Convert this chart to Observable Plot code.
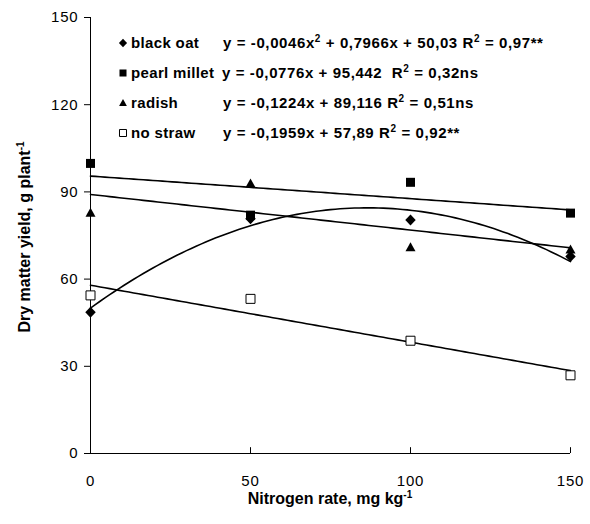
<!DOCTYPE html>
<html><head><meta charset="utf-8">
<script src="https://cdn.jsdelivr.net/npm/d3@7"></script>
<script src="https://cdn.jsdelivr.net/npm/@observablehq/plot@0.6"></script>
<style>
body{margin:0;background:#fff;}
#chart{position:relative;width:590px;height:524px;}
</style></head><body><div id="chart"></div>
<script>
// ---- data ----
const nitrogen = [0, 50, 100, 150];
const seriesNames = ["black oat", "pearl millet", "radish", "no straw"];
const blackOat = [48.6, 80.8, 80.3, 67.8];
const pearlMillet = [99.8, 82.0, 93.3, 82.7];
const radish = [82.8, 92.9, 71.0, 70.2];
const noStraw = [54.4, 53.2, 38.8, 26.9];
// regression coefficients [x^2, x, intercept], as printed in the legend
const coefBlackOat = [-0.0046, 0.7966, 50.03];
const coefPearlMillet = [0, -0.0776, 95.442];
const coefRadish = [0, -0.1224, 89.116];
const coefNoStraw = [0, -0.1959, 57.89];
// equation labels: alternating normal / superscript parts
const eqBlackOat = ["y = -0,0046x", "2", " + 0,7966x + 50,03 R", "2", " = 0,97**"];
const eqPearlMillet = ["y = -0,0776x + 95,442  R", "2", " = 0,32ns"];
const eqRadish = ["y = -0,1224x + 89,116 R", "2", " = 0,51ns"];
const eqNoStraw = ["y = -0,1959x + 57,89 R", "2", " = 0,92**"];
const yTicks = [0, 30, 60, 90, 120, 150];
const xTicks = [0, 50, 100, 150];
const xTitle = ["Nitrogen rate, mg kg", "-1"];
const yTitle = ["Dry matter yield, g plant", "-1"];

// ---- build ----
const values = [blackOat, pearlMillet, radish, noStraw];
const coefs = [coefBlackOat, coefPearlMillet, coefRadish, coefNoStraw];
const equations = [eqBlackOat, eqPearlMillet, eqRadish, eqNoStraw];
const points = seriesNames.map((s, i) => nitrogen.map((x, j) => ({series: s, x, y: values[i][j]})));
const fits = seriesNames.flatMap((s, i) => d3.range(0, 151, 1.5).map(x => {
  const [a, b, c] = coefs[i];
  return {series: s, x, y: a * x * x + b * x + c};
}));

// custom symbols (size = pi r^2)
const rad = size => Math.sqrt(size / Math.PI);
const symDiamond = {draw(ctx, size){ const h = rad(size) * 1.1; ctx.moveTo(0, -h); ctx.lineTo(h*0.95, 0); ctx.lineTo(0, h); ctx.lineTo(-h*0.95, 0); ctx.closePath(); }};
const symSquare = {draw(ctx, size){ const h = rad(size) * 0.9; ctx.rect(-h, -h, 2*h, 2*h); }};
const symTriangle = {draw(ctx, size){ const r = rad(size); ctx.moveTo(0, -r); ctx.lineTo(r, 0.8*r); ctx.lineTo(-r, 0.8*r); ctx.closePath(); }};
const symbols = [symDiamond, symSquare, symTriangle, symSquare];
const fills = ["#000", "#000", "#000", "#fff"];

const plot = Plot.plot({
  width: 590, height: 524,
  marginLeft: 90, marginRight: 20, marginTop: 17, marginBottom: 71,
  style: {fontFamily: "Arial, 'Liberation Sans', sans-serif", fontSize: "15px", color: "#000", background: "#fff"},
  x: {domain: [0, 150]},
  y: {domain: [0, 150]},
  marks: [
    Plot.axisY({ticks: yTicks, tickSize: 6, tickPadding: 6, label: null, tickFormat: d => d}),
    Plot.axisX({ticks: xTicks, tickSize: 0, tickPadding: 22, label: null, tickFormat: d => d}),
    Plot.ruleX(xTicks, {y1: 0, y2: 2, stroke: "#000"}),
    Plot.ruleX([0], {stroke: "#000"}),
    Plot.ruleY([0], {stroke: "#000"}),
    Plot.line(fits, {x: "x", y: "y", z: "series", stroke: "#000", strokeWidth: 1.6, curve: "linear"}),
    ...[1, 2, 3, 0].map(i => Plot.dot(points[i], {x: "x", y: "y", r: 5, symbol: symbols[i], fill: fills[i], stroke: "#000", strokeWidth: i === 3 ? 1 : 0}))
  ]
});
document.getElementById("chart").appendChild(plot);

// ---- titles & legend (text elements added to the SVG) ----
const svg = d3.select(plot);
svg.selectAll('g[aria-label="y-axis tick label"] text, g[aria-label="x-axis tick label"] text')
  .style("letter-spacing", "0.8px");
const font = "Arial, 'Liberation Sans', sans-serif";
function addRich(sel, parts, supSize) {
  parts.forEach((p, k) => {
    const t = sel.append("tspan").text(p);
    if (k % 2 === 1) t.attr("font-size", supSize).attr("dy", -6);
    else if (k > 0) t.attr("dy", 6);
  });
}
const xt = svg.append("text").attr("x", 330).attr("y", 504).attr("text-anchor", "middle")
  .attr("font-family", font).attr("font-size", 16).attr("font-weight", "bold").attr("fill", "#000");
addRich(xt, xTitle, 10);
const yt = svg.append("text").attr("transform", "translate(30,237) rotate(-90)").attr("text-anchor", "middle")
  .attr("font-family", font).attr("font-size", 16).attr("font-weight", "bold").attr("fill", "#000");
addRich(yt, yTitle, 10);

const legend = svg.append("g").attr("font-family", font).attr("font-size", 15).attr("font-weight", "bold")
  .attr("fill", "#000").attr("text-anchor", "start");
const eqX = [223, 222, 223, 223];
seriesNames.forEach((name, i) => {
  const cy = 43 + 30 * i;
  legend.append("path").attr("transform", `translate(123,${cy})`)
    .attr("d", d3.symbol(symbols[i], Math.PI * 3.9 * 3.9)())
    .attr("fill", fills[i]).attr("stroke", "#000").attr("stroke-width", i === 3 ? 1 : 0);
  legend.append("text").attr("x", 131).attr("y", cy + 5).style("letter-spacing", "0.35px").text(name);
  const t = legend.append("text").attr("x", eqX[i]).attr("y", cy + 5)
    .style("white-space", "pre").style("letter-spacing", "0.6px");
  addRich(t, equations[i], 10);
});
</script></body></html>
